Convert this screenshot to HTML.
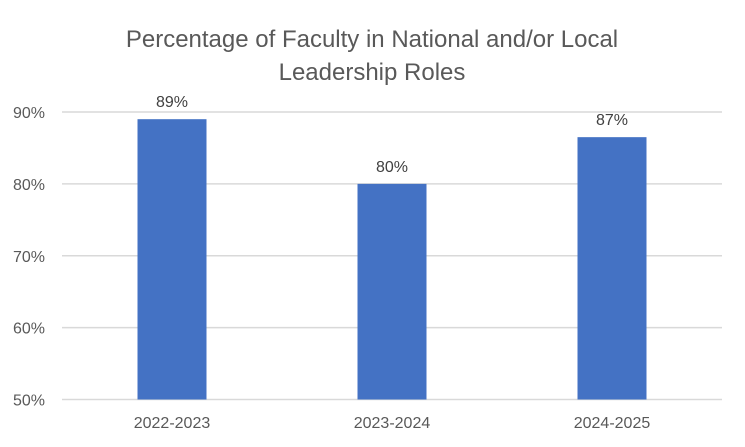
<!DOCTYPE html>
<html><head><meta charset="utf-8"><style>
html,body{margin:0;padding:0;background:#fff;}
svg{display:block;font-family:"Liberation Sans",sans-serif;}
</style></head><body>
<svg id="chart" width="745" height="447" viewBox="0 0 745 447">
<text x="372" y="47" text-anchor="middle" font-size="24" fill="#595959">Percentage of Faculty in National and/or Local</text>
<text x="372" y="80" text-anchor="middle" font-size="24" fill="#595959">Leadership Roles</text>
<g id="grid"></g><g id="bars"></g><g id="labels"></g>
</svg>
<script>
const categories = ["2022-2023","2023-2024","2024-2025"];
const values = [89, 80, 86.5];
const valueLabels = ["89%","80%","87%"];
const ticks = [50,60,70,80,90];
const tickLabels = ["50%","60%","70%","80%","90%"];
const NS="http://www.w3.org/2000/svg";
const x0=62,x1=722,yBase=399.5,yTop=112;
const y=v=>yBase-(v-50)/(90-50)*(yBase-yTop);
const band=(x1-x0)/categories.length;
const xc=i=>x0+band*(i+0.5);
const bw=69;
function mk(t,a,p){const e=document.createElementNS(NS,t);for(const k in a)e.setAttribute(k,a[k]);p.appendChild(e);return e;}
const g=document.getElementById('grid'),b=document.getElementById('bars'),l=document.getElementById('labels');
ticks.forEach((t,i)=>{
  const ln=mk('line',{x1:x0,x2:x1,y1:y(t),y2:y(t),stroke:'#d9d9d9','stroke-width':1.5},g);
  
  
  const tx=mk('text',{x:45,y:y(t)+6,'text-anchor':'end','font-size':16,fill:'#595959'},g);
  tx.textContent=tickLabels[i];
  
  
});
categories.forEach((c,i)=>{
  const r=mk('rect',{x:xc(i)-bw/2,y:y(values[i]),width:bw,height:yBase-y(values[i]),fill:'#4472c4'},b);
  
  
  const v=mk('text',{x:xc(i),y:y(values[i])-12,'text-anchor':'middle','font-size':16,fill:'#404040'},l);
  v.textContent=valueLabels[i];
  
  
  const cl=mk('text',{x:xc(i),y:428,'text-anchor':'middle','font-size':16,fill:'#595959'},l);
  cl.textContent=c;
  
  
});
</script>
</body></html>
